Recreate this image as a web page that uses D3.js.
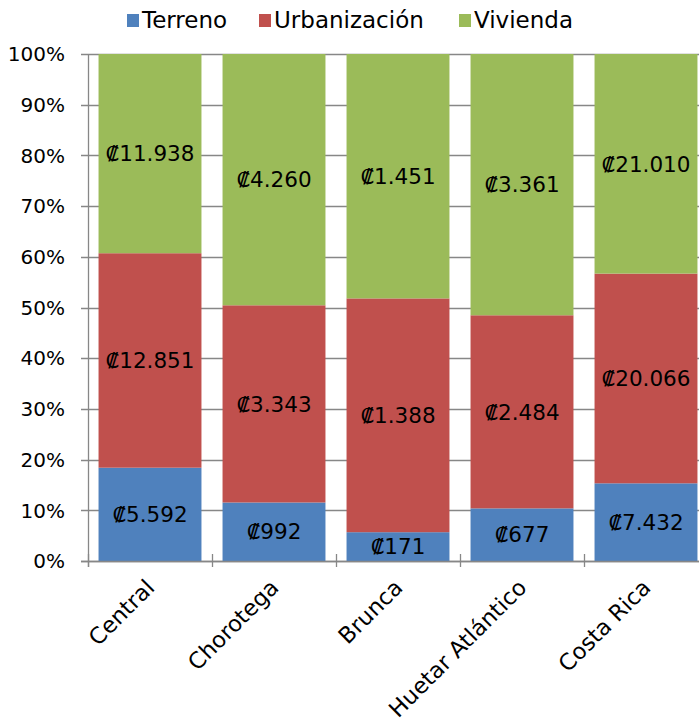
<!DOCTYPE html>
<meta charset="utf-8">
<style>
  body { margin: 0; background: #fff; }
  text { font-family: "DejaVu Sans", sans-serif; fill: #000; }
</style>
<svg width="699" height="726"></svg>
<script src="https://cdnjs.cloudflare.com/ajax/libs/d3/7.8.5/d3.min.js"></script>
<script>
// data
var regiones = ["Central", "Chorotega", "Brunca", "Huetar Atlántico", "Costa Rica"];
var series = ["Terreno", "Urbanización", "Vivienda"];
var terreno = [5592, 992, 171, 677, 7432];
var urbanizacion = [12851, 3343, 1388, 2484, 20066];
var vivienda = [11938, 4260, 1451, 3361, 21010];
var colores = ["#4F81BD", "#C0504D", "#9BBB59"];
var yTicks = [0, 0.1, 0.2, 0.3, 0.4, 0.5, 0.6, 0.7, 0.8, 0.9, 1];

var rows = regiones.map(function(r, i) {
  return { region: r, "Terreno": terreno[i], "Urbanización": urbanizacion[i], "Vivienda": vivienda[i] };
});

var svg = d3.select("svg");
var plotLeft = 88, plotTop = 54, plotBottom = 561, bandW = 124;

var x = d3.scaleBand()
    .domain(regiones)
    .range([plotLeft, plotLeft + bandW * regiones.length])
    .paddingInner(0.17)
    .paddingOuter(0.085);

var y = d3.scaleLinear().domain([0, 1]).range([plotBottom, plotTop]);

var stack = d3.stack().keys(series).offset(d3.stackOffsetExpand);
var layers = stack(rows);

// gridlines
svg.append("g").selectAll("line")
  .data(yTicks)
  .enter().append("line")
    .attr("x1", plotLeft - 7).attr("x2", 699)
    .attr("y1", function(d) { return Math.round(y(d)) + 0.5; })
    .attr("y2", function(d) { return Math.round(y(d)) + 0.5; })
    .attr("stroke", "#878787").attr("stroke-width", 1.3);

// y labels
svg.append("g").selectAll("text")
  .data(yTicks)
  .enter().append("text")
    .attr("x", 65)
    .attr("y", function(d) { return y(d); })
    .attr("dy", "0.36em")
    .attr("text-anchor", "end")
    .style("font-size", "20px")
    .text(function(d) { return Math.round(d * 100) + "%"; });

// bars
var fmt = function(v) { return "₡" + d3.format(",")(v).replace(/,/g, "."); };
var layer = svg.append("g").selectAll("g")
  .data(layers)
  .enter().append("g")
    .attr("fill", function(d, i) { return colores[i]; });

layer.selectAll("rect")
  .data(function(d) { return d; })
  .enter().append("rect")
    .attr("x", function(d) { return x(d.data.region); })
    .attr("width", x.bandwidth())
    .attr("y", function(d) { return y(d[1]); })
    .attr("height", function(d) { return y(d[0]) - y(d[1]); });

// data labels
layers.forEach(function(l) {
  svg.append("g").selectAll("text")
    .data(l)
    .enter().append("text")
      .attr("x", function(d) { return x(d.data.region) + x.bandwidth() / 2; })
      .attr("y", function(d) { return (y(d[0]) + y(d[1])) / 2; })
      .attr("dy", "0.36em")
      .attr("text-anchor", "middle")
      .style("font-size", "21.5px")
      .text(function(d) { return fmt(d.data[l.key]); });
});

// axes lines
svg.append("line")
  .attr("x1", plotLeft + 0.5).attr("x2", plotLeft + 0.5)
  .attr("y1", plotTop).attr("y2", plotBottom + 6)
  .attr("stroke", "#878787").attr("stroke-width", 1.3);
svg.append("line")
  .attr("x1", plotLeft - 7).attr("x2", 699)
  .attr("y1", plotBottom + 0.5).attr("y2", plotBottom + 0.5)
  .attr("stroke", "#878787").attr("stroke-width", 1.3);

// x ticks at band boundaries
svg.append("g").selectAll("line")
  .data(regiones)
  .enter().append("line")
    .attr("x1", function(d, i) { return plotLeft + i * bandW + 0.5; })
    .attr("x2", function(d, i) { return plotLeft + i * bandW + 0.5; })
    .attr("y1", plotBottom - 7).attr("y2", plotBottom + 6)
    .attr("stroke", "#878787").attr("stroke-width", 1.3);

// category labels
svg.append("g").selectAll("text")
  .data(regiones)
  .enter().append("text")
    .attr("text-anchor", "end")
    .attr("transform", function(d) {
      return "translate(" + (x(d) + x.bandwidth() / 2 + 6) + "," + (plotBottom + 28) + ") rotate(-45)";
    })
    .style("font-size", "22.5px")
    .text(function(d) { return d; });

// legend
var legX = [127, 259, 459];
var leg = svg.append("g").selectAll("g")
  .data(series)
  .enter().append("g")
    .attr("transform", function(d, i) { return "translate(" + legX[i] + ",20)"; });
leg.append("rect")
  .attr("x", 0).attr("y", -6).attr("width", 12).attr("height", 13)
  .attr("fill", function(d, i) { return colores[i]; });
leg.append("text")
  .attr("x", 15).attr("dy", "0.36em")
  .style("font-size", "23px")
  .text(function(d) { return d; });
</script>
